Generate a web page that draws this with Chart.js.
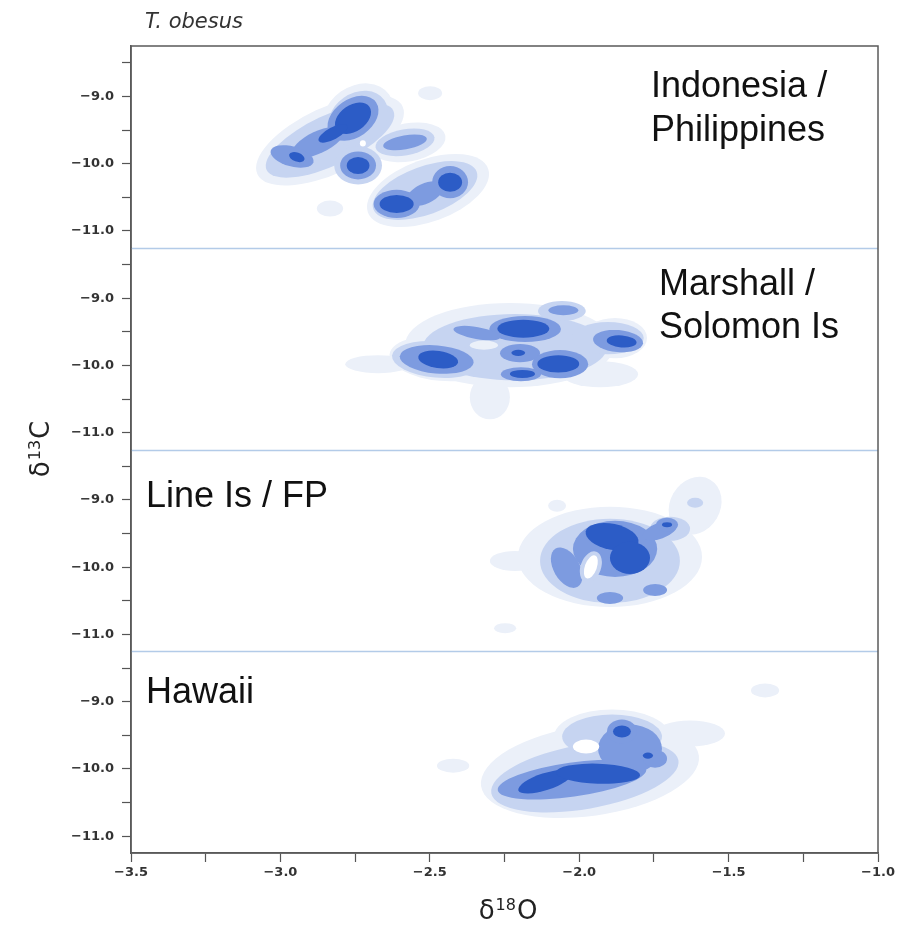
<!DOCTYPE html>
<html>
<head>
<meta charset="utf-8">
<script src="https://cdn.jsdelivr.net/npm/chart.js@4.4.1/dist/chart.umd.min.js"></script>
<style>
  html, body { margin: 0; padding: 0; background: #fff; }
  canvas { display: block; }
</style>
</head>
<body>
<canvas id="isoChart" width="910" height="925"></canvas>
<script>
// d18O ticks (minor every 0.25, labelled every 0.5)
const xTicks = [-3.5, -3.25, -3.0, -2.75, -2.5, -2.25, -2.0, -1.75, -1.5, -1.25, -1.0];
// d13C ticks, repeated in every region panel
const yTicks = [-8.5, -9.0, -9.5, -10.0, -10.5, -11.0];

const regionNames = [['Indonesia /', 'Philippines'], ['Marshall /', 'Solomon Is'], ['Line Is / FP'], ['Hawaii']];

// density levels, lightest to darkest
const levelColors = ['#ebf0f9', '#c6d4f1', '#7d9be0', '#2c5cc6'];

// KDE contours: [d18O, d13C, half-width, half-height, tilt (deg), level]
const indonesiaContours = [
  [-2.834, -9.653, 0.268, 0.493, -25, 0],
  [-2.740, -9.295, 0.127, 0.448, -35, 0],
  [-2.506, -10.399, 0.214, 0.463, -20, 0],
  [-2.573, -9.683, 0.127, 0.284, -10, 0],
  [-2.499, -8.951, 0.040, 0.104, 0, 0],
  [-2.834, -10.668, 0.044, 0.119, 0, 0],
  [-2.834, -9.653, 0.234, 0.373, -25, 1],
  [-2.740, -9.325, 0.107, 0.373, -35, 1],
  [-2.516, -10.399, 0.184, 0.358, -20, 1],
  [-2.583, -9.683, 0.100, 0.194, -10, 1],
  [-2.740, -10.026, 0.080, 0.284, 0, 1],
  [-2.757, -9.325, 0.094, 0.284, -35, 2],
  [-2.874, -9.683, 0.094, 0.164, -25, 2],
  [-2.961, -9.892, 0.074, 0.149, 15, 2],
  [-2.740, -10.026, 0.060, 0.209, 0, 2],
  [-2.583, -9.683, 0.074, 0.104, -10, 2],
  [-2.611, -10.598, 0.077, 0.209, 0, 2],
  [-2.432, -10.275, 0.060, 0.239, 0, 2],
  [-2.516, -10.444, 0.067, 0.149, -25, 2],
  [-2.757, -9.325, 0.067, 0.194, -35, 3],
  [-2.824, -9.549, 0.054, 0.090, -28, 3],
  [-2.945, -9.902, 0.027, 0.067, 20, 3],
  [-2.740, -10.026, 0.038, 0.127, 0, 3],
  [-2.611, -10.598, 0.057, 0.134, 0, 3],
  [-2.432, -10.275, 0.040, 0.142, 0, 3]
];
// low-density pockets inside the contours (level -1 = empty)
const indonesiaGaps = [
  [-2.724, -9.698, 0.010, 0.045, 0, -1]
];

const marshallContours = [
  [-2.232, -9.698, 0.351, 0.627, 0, 0],
  [-2.460, -9.900, 0.175, 0.330, 5, 0],
  [-2.673, -9.981, 0.110, 0.134, 0, 0],
  [-2.299, -10.474, 0.067, 0.328, 0, 0],
  [-1.930, -10.131, 0.127, 0.194, 0, 0],
  [-1.880, -9.593, 0.107, 0.299, 0, 0],
  [-2.215, -9.728, 0.308, 0.493, 0, 1],
  [-2.477, -9.911, 0.150, 0.270, 5, 1],
  [-1.904, -9.593, 0.120, 0.239, 0, 1],
  [-2.058, -9.190, 0.080, 0.149, 0, 1],
  [-2.053, -9.180, 0.050, 0.075, 0, 2],
  [-2.477, -9.911, 0.124, 0.209, 5, 2],
  [-2.181, -9.459, 0.120, 0.194, 0, 2],
  [-2.342, -9.519, 0.080, 0.090, 10, 2],
  [-2.198, -9.817, 0.067, 0.134, 0, 2],
  [-2.064, -9.981, 0.094, 0.209, 0, 2],
  [-2.195, -10.131, 0.067, 0.104, 0, 2],
  [-1.870, -9.638, 0.084, 0.164, 5, 2],
  [-2.472, -9.911, 0.067, 0.127, 8, 3],
  [-2.187, -9.454, 0.087, 0.134, 0, 3],
  [-2.204, -9.813, 0.023, 0.045, 0, 3],
  [-2.070, -9.977, 0.070, 0.127, 0, 3],
  [-2.190, -10.126, 0.042, 0.060, 0, 3],
  [-1.858, -9.643, 0.050, 0.090, 5, 3]
];
const marshallGaps = [
  [-2.319, -9.698, 0.047, 0.067, 0, 0]
];

const lineContours = [
  [-1.897, -9.847, 0.308, 0.746, 0, 0],
  [-2.215, -9.907, 0.084, 0.149, 0, 0],
  [-1.612, -9.086, 0.084, 0.448, 30, 0],
  [-2.074, -9.086, 0.030, 0.090, 0, 0],
  [-2.248, -10.907, 0.037, 0.075, 0, 0],
  [-1.897, -9.907, 0.234, 0.627, 0, 1],
  [-1.696, -9.429, 0.067, 0.179, 0, 1],
  [-1.612, -9.041, 0.027, 0.075, 0, 1],
  [-1.880, -9.728, 0.141, 0.418, 0, 2],
  [-1.730, -9.459, 0.060, 0.119, -20, 2],
  [-1.706, -9.369, 0.037, 0.104, 0, 2],
  [-2.042, -10.007, 0.074, 0.194, 60, 2],
  [-1.897, -10.459, 0.044, 0.090, 0, 2],
  [-1.746, -10.340, 0.040, 0.090, 0, 2],
  [-1.890, -9.549, 0.090, 0.194, 12, 3],
  [-1.830, -9.862, 0.067, 0.239, 0, 3],
  [-1.706, -9.369, 0.017, 0.037, 0, 3]
];
const lineGaps = [
  [-1.961, -9.996, 0.034, 0.240, 20, 1],
  [-1.961, -9.996, 0.020, 0.180, 20, -1]
];

const hawaiiContours = [
  [-1.964, -10.026, 0.368, 0.672, -8, 0],
  [-1.890, -9.519, 0.194, 0.403, 0, 0],
  [-1.629, -9.474, 0.117, 0.194, 0, 0],
  [-2.422, -9.951, 0.054, 0.104, 0, 0],
  [-1.378, -8.832, 0.047, 0.104, 0, 0],
  [-1.981, -10.116, 0.318, 0.478, -10, 1],
  [-1.890, -9.519, 0.167, 0.328, 0, 1],
  [-2.024, -10.160, 0.251, 0.254, -8, 2],
  [-1.830, -9.698, 0.107, 0.358, 0, 2],
  [-1.857, -9.444, 0.050, 0.179, 0, 2],
  [-1.746, -9.847, 0.040, 0.134, 0, 2],
  [-2.114, -10.190, 0.094, 0.127, -18, 3],
  [-1.937, -10.071, 0.141, 0.149, 2, 3],
  [-1.857, -9.444, 0.030, 0.090, 0, 3],
  [-1.770, -9.802, 0.017, 0.045, 0, 3]
];
const hawaiiGaps = [
  [-1.977, -9.668, 0.044, 0.104, 0, -1]
];

// panels from top to bottom; label offsets are px from the panel top
const panels = [
  { axis: 'yIndo', contours: indonesiaContours, gaps: indonesiaGaps, lx: 651, ly: [51, 95] },
  { axis: 'yMarsh', contours: marshallContours, gaps: marshallGaps, lx: 659, ly: [47, 90] },
  { axis: 'yLine', contours: lineContours, gaps: lineGaps, lx: 146, ly: [57] },
  { axis: 'yHaw', contours: hawaiiContours, gaps: hawaiiGaps, lx: 146, ly: [52] }
];

const minus = v => v.toFixed(1).replace('-', '\u2212');
const tickFont = { family: 'DejaVu Sans', size: 13, weight: 'bold' };

function fillEllipse(ctx, xs, ys, c) {
  const cx = xs.getPixelForValue(c[0]);
  const cy = ys.getPixelForValue(c[1]);
  const rx = Math.abs(xs.getPixelForValue(c[0] + c[2]) - cx);
  const ry = Math.abs(ys.getPixelForValue(c[1] + c[3]) - cy);
  ctx.fillStyle = c[5] < 0 ? '#ffffff' : levelColors[c[5]];
  ctx.beginPath();
  ctx.ellipse(cx, cy, rx, ry, c[4] * Math.PI / 180, 0, Math.PI * 2);
  ctx.fill();
}

// delta notation with a raised mass number
function drawDelta(ctx, mass, elem, x, y) {
  const big = '26px "DejaVu Sans"', small = '16px "DejaVu Sans"';
  ctx.font = big;
  const wd = ctx.measureText('\u03b4').width, we = ctx.measureText(elem).width;
  ctx.font = small;
  const wm = ctx.measureText(mass).width;
  let px = x - (wd + wm + we + 2) / 2;
  ctx.textAlign = 'left';
  ctx.font = big;
  ctx.fillText('\u03b4', px, y);
  px += wd + 1;
  ctx.font = small;
  ctx.fillText(mass, px, y - 9);
  px += wm + 1;
  ctx.font = big;
  ctx.fillText(elem, px, y);
}

const contourPlugin = {
  id: 'contours',
  beforeDatasetsDraw(chart) {
    const ctx = chart.ctx, xs = chart.scales.x, area = chart.chartArea;
    panels.forEach(p => {
      const ys = chart.scales[p.axis];
      ctx.save();
      ctx.beginPath();
      ctx.rect(area.left, ys.top, area.right - area.left, ys.bottom - ys.top);
      ctx.clip();
      for (let lvl = 0; lvl < levelColors.length; lvl++) {
        p.contours.filter(c => c[5] === lvl).forEach(c => fillEllipse(ctx, xs, ys, c));
      }
      p.gaps.forEach(c => fillEllipse(ctx, xs, ys, c));
      ctx.restore();
    });
  },
  afterDraw(chart) {
    const ctx = chart.ctx, area = chart.chartArea;
    ctx.save();
    // panel separators
    ctx.strokeStyle = '#b3cbe8';
    ctx.lineWidth = 1.5;
    panels.slice(1).forEach(p => {
      const t = Math.round(chart.scales[p.axis].top) + 0.5;
      ctx.beginPath();
      ctx.moveTo(area.left, t);
      ctx.lineTo(area.right, t);
      ctx.stroke();
    });
    // frame
    ctx.strokeStyle = '#5a5a5a';
    ctx.lineWidth = 1.5;
    ctx.strokeRect(area.left, area.top, area.right - area.left, area.bottom - area.top);

    // region names
    ctx.fillStyle = '#111';
    ctx.font = '36px "Liberation Sans"';
    ctx.textAlign = 'left';
    ctx.textBaseline = 'alphabetic';
    panels.forEach((p, i) => {
      const top = chart.scales[p.axis].top;
      regionNames[i].forEach((line, j) => ctx.fillText(line, p.lx, top + p.ly[j]));
    });

    // species title
    ctx.fillStyle = '#333';
    ctx.font = 'italic 21px "DejaVu Sans"';
    ctx.fillText('T. obesus', 145, 28);

    // axis titles
    ctx.fillStyle = '#222';
    drawDelta(ctx, '18', 'O', 508, 919);
    ctx.translate(49, 449);
    ctx.rotate(-Math.PI / 2);
    drawDelta(ctx, '13', 'C', 0, 0);
    ctx.restore();
  }
};

function yScale() {
  return {
    type: 'linear',
    position: 'left',
    stack: 'regions',
    stackWeight: 1,
    offset: false,
    min: -11.25,
    max: -8.25,
    afterBuildTicks: s => { s.ticks = yTicks.map(v => ({ value: v })); },
    afterFit: s => { s.width = 131; },
    grid: { drawOnChartArea: false, tickLength: 9, tickColor: '#555', tickWidth: 1.2 },
    border: { color: '#5a5a5a', width: 1.5 },
    ticks: {
      autoSkip: false,
      padding: 8,
      color: '#333',
      font: tickFont,
      callback: v => Number.isInteger(v) ? minus(v) : ''
    }
  };
}

new Chart(document.getElementById('isoChart'), {
  type: 'scatter',
  data: {
    datasets: panels.map(p => ({ data: [], yAxisID: p.axis }))
  },
  options: {
    responsive: false,
    animation: false,
    layout: { padding: { top: 46, right: 32, left: 0, bottom: 0 } },
    plugins: { legend: { display: false }, tooltip: { enabled: false } },
    scales: {
      x: {
        type: 'linear',
        position: 'bottom',
        min: -3.5,
        max: -1.0,
        afterBuildTicks: s => { s.ticks = xTicks.map(v => ({ value: v })); },
        afterFit: s => { s.height = 72; },
        grid: { drawOnChartArea: false, tickLength: 9, tickColor: '#555', tickWidth: 1.2 },
        border: { color: '#5a5a5a', width: 1.5 },
        ticks: {
          autoSkip: false,
          maxRotation: 0,
          padding: 3,
          color: '#333',
          font: tickFont,
          callback: v => Number.isInteger(v * 2) ? minus(v) : ''
        }
      },
      // stacked bottom-up: the last one listed sits at the top
      yHaw: yScale(),
      yLine: yScale(),
      yMarsh: yScale(),
      yIndo: yScale()
    }
  },
  plugins: [contourPlugin]
});
</script>
</body>
</html>
